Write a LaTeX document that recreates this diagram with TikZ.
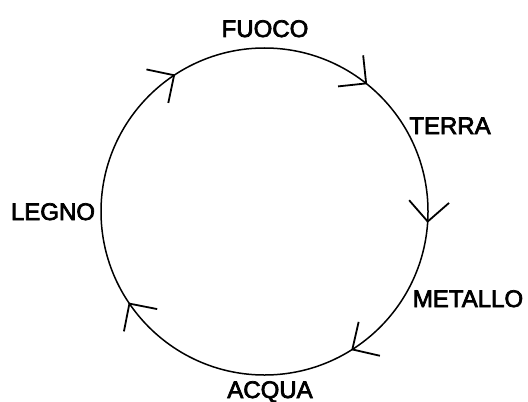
\documentclass[tikz,border=0pt]{standalone}
\usepackage{fontspec}
\setmainfont{Liberation Sans}
\newfontfamily\labelfont{Liberation Sans}[RawFeature={embolden=3}]
\usepackage{tikz}
\usetikzlibrary{arrows.meta,decorations.markings}
\tikzset{
  elemlabel/.style = {
    anchor=base,
    inner sep=0pt,
    font=\labelfont\fontsize{12}{14}\selectfont
  },
  cycleline/.style = {
    line width=0.75pt,
    postaction={decorate},
    decoration={markings,
      mark=at position 0.011 with {\arrow{cyclehead}},
      mark=at position 0.161 with {\arrow{cyclehead}},
      mark=at position 0.406 with {\arrow{cyclehead}},
      mark=at position 0.658 with {\arrow{cyclehead}},
      mark=at position 0.858 with {\arrow{cyclehead}}
    }
  },
  cyclehead/.tip = {Straight Barb[length=10pt,width=20pt,line width=0.9pt]}
}

\begin{document}
\begin{tikzpicture}[x=0.5pt,y=-0.5pt]
    \useasboundingbox (0,0) rectangle (528,401);
    \coordinate (centre) at (264.5,211.5);
    \node[elemlabel] (fuoco) at (265,37) {FUOCO};
    \node[elemlabel] (terra) at (450,134) {TERRA};
    \node[elemlabel] (metallo) at (468,307) {METALLO};
    \node[elemlabel] (acqua) at (270,398) {ACQUA};
    \node[elemlabel] (legno) at (53,220) {LEGNO};
    \draw[cycleline] (centre) circle[radius=163.5];
  \end{tikzpicture}
\end{document}
